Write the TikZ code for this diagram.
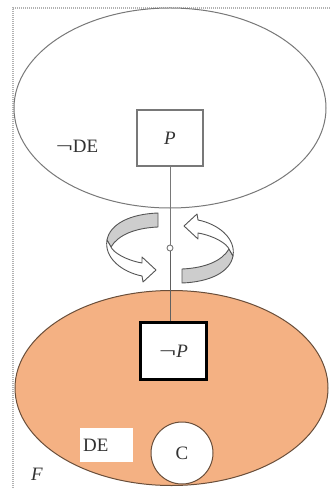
\documentclass[tikz,border=0pt]{standalone}
\usepackage{fontspec}
\setmainfont{Liberation Serif}
\usetikzlibrary{shapes.geometric}
\definecolor{salmon}{RGB}{244,177,131}
\definecolor{brownedge}{RGB}{105,78,58}
\definecolor{ringgrey}{RGB}{205,205,205}
\definecolor{ringedge}{RGB}{85,85,85}
\definecolor{lineg}{RGB}{120,120,120}
\definecolor{textc}{RGB}{50,50,50}
\newcommand\wneg{\scalebox{1.6}[1]{¬}}
\begin{document}
\begin{tikzpicture}[x=1bp,y=-1bp,
  bigfont/.style={font=\fontsize{19}{19}\selectfont, text=textc},
  txt/.style={bigfont, inner sep=0pt},
  region/.style={ellipse, line width=1bp, inner sep=0pt},
  propbox/.style={fill=white, inner sep=0pt, bigfont},
  ringback/.style={fill=ringgrey, draw=ringedge, line width=0.9bp, line join=round},
  ringfront/.style={fill=white, draw=ringedge, line width=0.9bp, line join=round},
  frame/.style={draw=gray!60, line width=1.6bp, dash pattern=on 1.2bp off 0.8bp}]
\useasboundingbox (0,0) rectangle (329,488);

% frame
\draw[frame] (13,490) -- (13,8) -- (335,8);

% regions
\node[region, draw=brownedge, fill=salmon, minimum width=313bp, minimum height=195bp] (bot) at (171.5,388) {};
\node[region, draw=lineg, fill=white, minimum width=312bp, minimum height=200bp] (top) at (170,108) {};

% rotation arrows
\newcommand\ringarrow{%
  \filldraw[ringback] (-12,-35) .. controls (-40,-34) and (-60,-24) .. (-63,-8)
     -- (-59,-1) .. controls (-52,-13) and (-35,-20) .. (-12,-21) -- cycle;
  \filldraw[ringfront] (-63,-8) .. controls (-66,10) and (-48,24) .. (-28,28)
     -- (-27,34) -- (-14,22) -- (-28,9) -- (-28,15)
     .. controls (-45,12) and (-57,4) .. (-59,-1) -- cycle;
}
\begin{scope}[shift={(170,248)}]\ringarrow\end{scope}
\begin{scope}[shift={(170,248)}, rotate=180]\ringarrow\end{scope}

% boxes
\node[propbox, draw=lineg, line width=1.2bp, minimum width=66bp, minimum height=56bp] (P) at (170,138) {\textit{P}};
\node[propbox, draw=black, line width=2.2bp, minimum width=66bp, minimum height=57bp] (NP) at (173.5,351) {\wneg\textit{P}};
\node[circle, draw=lineg, fill=white, line width=0.9bp, minimum size=6bp, inner sep=0pt] (hub) at (170,248) {};

% connector
\draw[lineg, line width=1bp] (P.south) -- (hub.north);
\draw[lineg!80!black, line width=1bp] (hub.south) -- (hub.south |- NP.north);

% labels
\node[txt] (nde) at (77,146) {\wneg DE};
\node[fill=white, anchor=west, inner xsep=3bp, inner ysep=0pt, minimum height=34bp, text width=47bp, bigfont] (de) at (80,445) {DE};
\node[circle, draw=brownedge, fill=white, line width=1bp, minimum size=62bp, inner sep=0pt, bigfont] (C) at (182,453) {C};
\node[txt] (F) at (37,474) {\textit{F}};
\end{tikzpicture}
\end{document}
